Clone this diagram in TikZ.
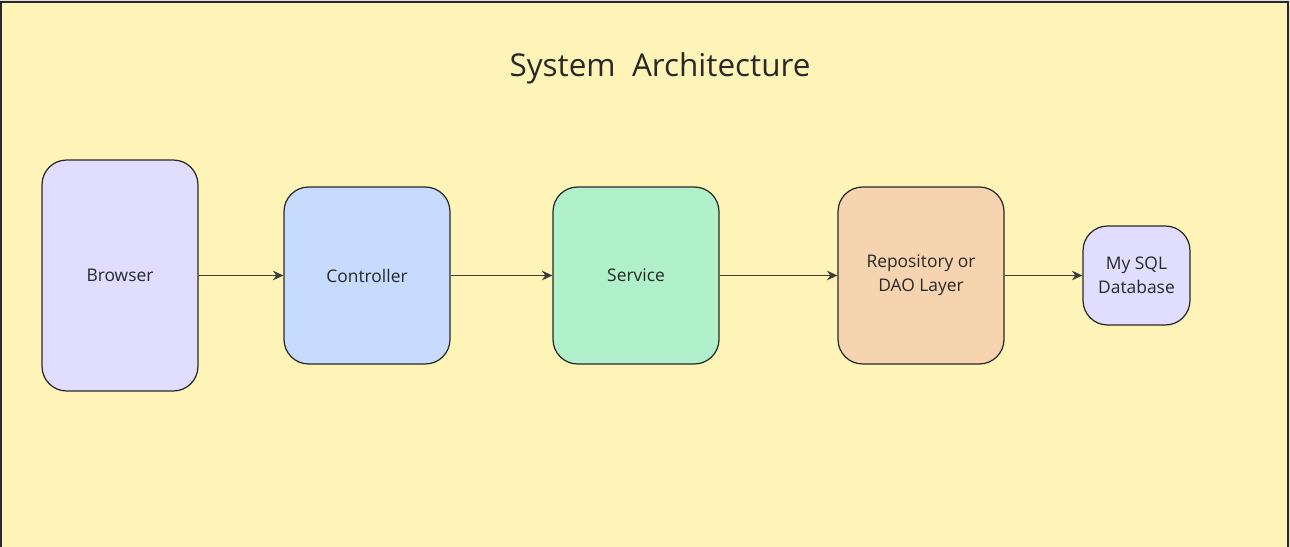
\documentclass[tikz,border=0pt]{standalone}
\usepackage{fontspec}
\setmainfont{Open Sans}
\definecolor{bgyellow}{RGB}{255,244,183}
\definecolor{edgegray}{RGB}{40,40,40}
\definecolor{browserlav}{RGB}{224,221,255}
\definecolor{ctrlblue}{RGB}{199,219,255}
\definecolor{svcgreen}{RGB}{176,240,202}
\definecolor{repopeach}{RGB}{247,212,176}
\definecolor{dblav}{RGB}{224,221,255}
\usetikzlibrary{arrows.meta,positioning}
\tikzset{
  layer/.style={draw=edgegray, line width=0.7pt, rounded corners=14pt, align=center,
    font=\fontsize{9.9}{13.6}\selectfont, text=edgegray},
  flow/.style={-{Stealth[length=6pt,width=5.5pt]}, draw=edgegray!90, line width=0.65pt}
}

\begin{document}
\begin{tikzpicture}[x=0.02cm, y=-0.02cm]
  \useasboundingbox (0,0) rectangle (1290,547);
  \clip (0,0) rectangle (1290,547);
  \fill[gray!25] (0,0) rectangle (1290,547);
  \draw[edgegray, line width=1.1pt, fill=bgyellow] (1,2) rectangle (1288,600);

  \node[font=\fontsize{17.9}{21}\selectfont, text=edgegray] (title) at (660,68) {System~ Architecture};

  \node[layer, fill=browserlav, minimum width=3.12cm, minimum height=4.62cm] (browser) at (120,275.5) {Browser};
  \node[layer, fill=ctrlblue, minimum width=3.32cm, minimum height=3.54cm] (ctrl) at (367,275.5) {Controller};
  \node[layer, fill=svcgreen, minimum width=3.32cm, minimum height=3.54cm] (svc) at (636,275.5) {Service};
  \node[layer, fill=repopeach, minimum width=3.32cm, minimum height=3.54cm] (repo) at (921,275.5) {Repository or\\DAO Layer};
  \node[layer, fill=dblav, minimum width=2.14cm, minimum height=1.98cm] (db) at (1136.5,275.5) {My SQL\\Database};

  % request flow
  \draw[flow] (browser) -- (ctrl);
  \draw[flow] (ctrl) -- (svc);
  \draw[flow] (svc) -- (repo);
  \draw[flow] (repo) -- (db);
\end{tikzpicture}
\end{document}
